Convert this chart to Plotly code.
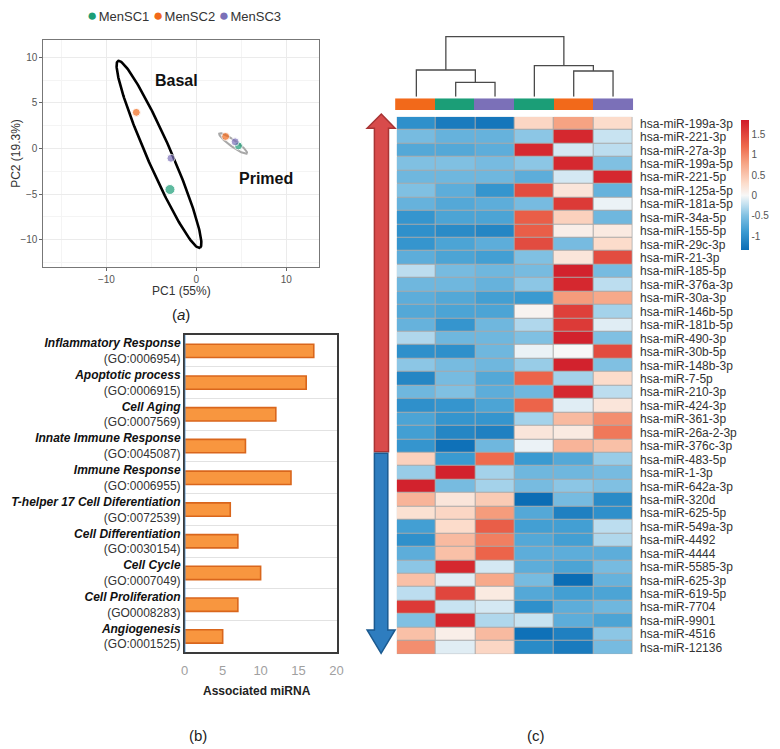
import numpy as np
import plotly.graph_objects as go

W, H = 780, 749
def fx(p): return p / W
def fy(p): return 1 - p / H

FONT = "Arial, Liberation Sans, sans-serif"
C_GREEN, C_ORANGE, C_PURPLE = "#1B9E77", "#F2691A", "#7B70B8"

# ---------------- (a) PCA data ----------------
pca_samples = ["MenSC1", "MenSC2", "MenSC3"]
pca_colors = [C_GREEN, C_ORANGE, C_PURPLE]
basal_pc1 = [-2.93, -6.67, -2.82]
basal_pc2 = [-4.50, 3.96, -1.07]
primed_pc1 = [4.69, 3.26, 4.32]
primed_pc2 = [0.29, 1.32, 0.73]
# ellipse parameters: center, major half-axis vector, minor half length
ell_basal = dict(cx=-4.15, cy=-0.65, ax=4.55, ay=-10.25, minor=1.35)
ell_primed = dict(cx=4.1, cy=0.55, ax=1.55, ay=-1.1, minor=0.36)

# ---------------- (b) GO bar data ----------------
go_terms = ["Inflammatory Response", "Apoptotic process", "Cell Aging",
            "Innate Immune Response", "Immune Response",
            "T-helper 17 Cell Diferentiation", "Cell Differentiation",
            "Cell Cycle", "Cell Proliferation", "Angiogenesis"]
go_ids = ["(GO:0006954)", "(GO:0006915)", "(GO:0007569)", "(GO:0045087)",
          "(GO:0006955)", "(GO:0072539)", "(GO:0030154)", "(GO:0007049)",
          "(GO0008283)", "(GO:0001525)"]
go_counts = [17, 16, 12, 8, 14, 6, 7, 10, 7, 5]
bar_ticks = [0, 5, 10, 15, 20]

# ---------------- (c) heatmap data ----------------
col_donor = [1, 0, 2, 0, 1, 2]   # index into pca_samples
mirnas = ["hsa-miR-199a-3p", "hsa-miR-221-3p", "hsa-miR-27a-3p", "hsa-miR-199a-5p",
          "hsa-miR-221-5p", "hsa-miR-125a-5p", "hsa-miR-181a-5p", "hsa-miR-34a-5p",
          "hsa-miR-155-5p", "hsa-miR-29c-3p", "hsa-miR-21-3p", "hsa-miR-185-5p",
          "hsa-miR-376a-3p", "hsa-miR-30a-3p", "hsa-miR-146b-5p", "hsa-miR-181b-5p",
          "hsa-miR-490-3p", "hsa-miR-30b-5p", "hsa-miR-148b-3p", "hsa-miR-7-5p",
          "hsa-miR-210-3p", "hsa-miR-424-3p", "hsa-miR-361-3p", "hsa-miR-26a-2-3p",
          "hsa-miR-376c-3p", "hsa-miR-483-5p", "hsa-miR-1-3p", "hsa-miR-642a-3p",
          "hsa-miR-320d", "hsa-miR-625-5p", "hsa-miR-549a-3p", "hsa-miR-4492",
          "hsa-miR-4444", "hsa-miR-5585-3p", "hsa-miR-625-3p", "hsa-miR-619-5p",
          "hsa-miR-7704", "hsa-miR-9901", "hsa-miR-4516", "hsa-miR-12136"]
hm_values = [
    [-1.00, -1.20, -1.25, 0.35, 0.80, 0.30],
    [-0.55, -0.65, -0.65, -0.45, 1.75, -0.20],
    [-0.75, -0.75, -0.70, 1.75, -0.15, -0.25],
    [-0.50, -0.50, -0.55, -0.45, 1.75, -0.50],
    [-0.60, -0.60, -0.60, -0.70, -0.15, 1.75],
    [-0.50, -0.70, -0.95, 1.45, 0.20, -0.65],
    [-0.65, -0.75, -0.70, -0.55, 1.60, -0.05],
    [-0.95, -0.80, -0.80, 1.30, 0.40, -0.60],
    [-1.00, -1.05, -1.10, 1.30, 0.10, 0.15],
    [-0.95, -0.80, -0.70, 1.45, -0.55, 0.30],
    [-0.70, -0.80, -0.85, -0.50, 0.20, 1.45],
    [-0.25, -0.55, -0.60, -0.55, 1.80, -0.55],
    [-0.60, -0.60, -0.65, -0.45, 1.75, -0.25],
    [-0.70, -0.75, -0.85, -0.90, 0.85, 0.75],
    [-0.75, -0.80, -0.80, 0.05, 1.55, -0.35],
    [-0.65, -0.95, -0.60, -0.30, 1.60, -0.10],
    [-0.30, -0.60, -0.60, -0.50, 1.80, -0.50],
    [-1.00, -1.00, -0.60, -0.05, 0.00, 1.45],
    [-0.45, -0.55, -0.60, -0.40, 1.80, -0.50],
    [-1.10, -0.55, -0.75, 1.25, -0.35, 0.30],
    [-0.60, -0.50, -0.70, -0.60, 1.75, -0.25],
    [-1.00, -0.95, -0.80, 1.25, -0.10, 0.20],
    [-0.80, -0.95, -0.95, -0.35, 0.60, 0.95],
    [-0.85, -1.10, -1.15, 0.20, 0.15, 1.10],
    [-0.95, -1.30, -0.60, -0.05, 0.65, 0.55],
    [0.40, -0.90, 1.20, -0.90, -0.75, -0.40],
    [-0.40, 1.80, -0.35, -0.60, -0.60, -0.55],
    [1.80, -0.55, -0.35, -0.55, -0.45, -0.50],
    [0.65, 0.20, 0.45, -1.35, -0.55, -1.05],
    [0.25, 0.35, 0.85, -0.75, -1.15, -1.00],
    [-0.85, 0.30, 1.30, -0.85, -0.85, -0.25],
    [-1.00, 0.60, 1.05, -0.75, -0.85, -0.30],
    [-0.70, 0.55, 1.25, -0.70, -0.70, -0.70],
    [-0.45, 1.75, -0.15, -0.70, -0.80, -0.55],
    [0.55, -0.10, 0.75, -0.55, -1.40, -0.65],
    [-0.25, 1.50, 0.15, -0.75, -0.85, -0.80],
    [1.60, -0.20, -0.15, -1.00, -0.70, -0.60],
    [-0.50, 1.75, -0.30, -0.20, -0.70, -0.80],
    [0.55, 0.10, 0.60, -1.30, -1.15, -0.45],
    [0.95, -0.10, 0.35, -1.05, -1.20, -0.55],
]
z_min, z_max = -1.34, 1.85
cbar_ticks = [-1, -0.5, 0, 0.5, 1, 1.5]
# dendrogram merges: (left node, right node, height); leaves 0..5, new nodes 6..
dendro_merges = [(1, 2, 14.4), (0, 6, 26.7), (4, 5, 25.7), (3, 8, 31.0), (7, 9, 60.0)]

fig = go.Figure()

# ---------- PCA ----------
def ellipse(p):
    t = np.linspace(0, 2 * np.pi, 200)
    L = np.hypot(p["ax"], p["ay"])
    ux, uy = p["ax"] / L, p["ay"] / L
    vx, vy = -uy, ux
    x = p["cx"] + np.cos(t) * p["ax"] + np.sin(t) * p["minor"] * vx
    y = p["cy"] + np.cos(t) * p["ay"] + np.sin(t) * p["minor"] * vy
    return x, y

ex, ey = ellipse(ell_basal)
fig.add_trace(go.Scatter(x=ex, y=ey, mode="lines", line=dict(color="black", width=2.6),
                         showlegend=False, hoverinfo="skip", xaxis="x", yaxis="y"))
ex, ey = ellipse(ell_primed)
fig.add_trace(go.Scatter(x=ex, y=ey, mode="lines", line=dict(color="#A8A8A8", width=2),
                         showlegend=False, hoverinfo="skip", xaxis="x", yaxis="y"))
for i, s in enumerate(pca_samples):
    fig.add_trace(go.Scatter(x=[basal_pc1[i], primed_pc1[i]], y=[basal_pc2[i], primed_pc2[i]],
                             mode="markers", name=s,
                             marker=dict(color=pca_colors[i], size=[10 if i == 0 else 8, 8]),
                             xaxis="x", yaxis="y"))

# ---------- GO bars ----------
ypos = list(range(len(go_terms)))
fig.add_trace(go.Bar(x=go_counts, y=ypos, orientation="h", width=0.42,
                     marker=dict(color="#F8963F", line=dict(color="#D9661C", width=1.6)),
                     showlegend=False, xaxis="x2", yaxis="y2"))

# ---------- heatmap ----------
def sp(v): return (v - z_min) / (z_max - z_min)
cscale = [
    [0.0, "#0B6DB5"], [sp(-0.9), "#3A9AD1"], [sp(-0.5), "#80C0E2"], [sp(-0.2), "#C8E3F1"],
    [sp(0), "#F7F7F7"], [sp(0.3), "#FCDCCB"], [sp(0.8), "#F6A383"], [sp(1.2), "#EE6A4D"],
    [1.0, "#D01C2A"]]
fig.add_trace(go.Heatmap(z=hm_values, x=list(range(6)), y=list(range(len(mirnas))),
                         zmin=z_min, zmax=z_max, colorscale=cscale, xgap=1, ygap=1,
                         colorbar=dict(x=fx(747.7), xanchor="left", xpad=0, ypad=0, thickness=8.3,
                                       lenmode="pixels", len=130, y=fy(185), yanchor="middle",
                                       tickvals=cbar_ticks, ticktext=[str(v) for v in cbar_ticks],
                                       tickfont=dict(size=10, color="#555", family=FONT),
                                       outlinewidth=0, ticks=""),
                         xaxis="x3", yaxis="y3"))

# column annotation bar
fig.add_trace(go.Heatmap(z=[col_donor], x=list(range(6)), y=[0], zmin=0, zmax=2,
                         colorscale=[[0, C_GREEN], [0.33, C_GREEN], [0.34, C_ORANGE], [0.66, C_ORANGE],
                                     [0.67, C_PURPLE], [1, C_PURPLE]],
                         showscale=False, xaxis="x5", yaxis="y5", hoverinfo="skip"))

# dendrogram
pos = {i: (float(i), 0.0) for i in range(6)}
nid = 6
for a, b, h in dendro_merges:
    xa, ha = pos[a]
    xb, hb = pos[b]
    fig.add_trace(go.Scatter(x=[xa, xa, xb, xb], y=[ha, h, h, hb], mode="lines",
                             line=dict(color="#4A4A4A", width=1.3), showlegend=False,
                             hoverinfo="skip", xaxis="x4", yaxis="y4"))
    pos[nid] = ((xa + xb) / 2, h)
    nid += 1

# ---------- layout ----------
ax_hidden = dict(visible=False, showgrid=False, zeroline=False)
fig.update_layout(
    width=W, height=H, margin=dict(l=0, r=0, t=0, b=0),
    paper_bgcolor="white", plot_bgcolor="white", showlegend=False,
    font=dict(family=FONT, color="#222"),
    xaxis=dict(domain=[fx(40), fx(320)], range=[-17, 13.7], tickvals=[-10, 0, 10],
               showgrid=True, gridcolor="#EBEBEB", zeroline=False,
               minor=dict(dtick=5, showgrid=True, gridcolor="#F4F4F4"),
               showline=True, mirror=True, linecolor="#777", linewidth=1,
               ticks="outside", ticklen=3, tickcolor="#666",
               tickfont=dict(size=10, color="#555"), anchor="y"),
    yaxis=dict(domain=[fy(267), fy(40)], range=[-13, 11.9], tickvals=[-10, -5, 0, 5, 10],
               showgrid=True, gridcolor="#EBEBEB", zeroline=False,
               minor=dict(tickvals=[-12.5, -7.5, -2.5, 2.5, 7.5], showgrid=True, gridcolor="#F4F4F4"),
               showline=True, mirror=True, linecolor="#777", linewidth=1,
               ticks="outside", ticklen=3, tickcolor="#666",
               tickfont=dict(size=10, color="#555"), anchor="x"),
    xaxis2=dict(domain=[fx(183.3), fx(337.3)], range=[0, 20], tickvals=bar_ticks,
                showgrid=False, zeroline=False, showline=True, mirror=True,
                linecolor="#3A3A3A", linewidth=1.5, ticks="outside", ticklen=5,
                tickcolor="rgba(0,0,0,0)", tickfont=dict(size=13, color="#A0A0A0"), anchor="y2"),
    yaxis2=dict(domain=[fy(652.3), fy(335)], range=[9.5, -0.5], tickvals=ypos,
                ticktext=[f"<b><i>{t}</i></b><br><span style='color:#333'>{g}</span>"
                          for t, g in zip(go_terms, go_ids)],
                showgrid=False, zeroline=False, showline=True, mirror=True,
                linecolor="#3A3A3A", linewidth=1.5, ticks="",
                minor=dict(tickvals=[i + 0.5 for i in range(9)], showgrid=True,
                           gridcolor="#E2E2E2", ticks=""),
                tickfont=dict(size=12, color="#111"), anchor="x2"),
    xaxis3=dict(domain=[fx(398.3), fx(637.7)], range=[-0.5, 5.5], **ax_hidden, anchor="y3"),
    yaxis3=dict(domain=[fy(654.3), fy(116.7)], range=[39.5, -0.5], tickvals=list(range(len(mirnas))),
                ticktext=mirnas, side="right", anchor="x3", showgrid=False, zeroline=False,
                ticks="outside", ticklen=4, tickcolor="rgba(0,0,0,0)",
                tickfont=dict(size=12, color="#333")),
    xaxis4=dict(domain=[fx(398.3), fx(637.7)], range=[-0.5, 5.5], **ax_hidden, anchor="y4"),
    yaxis4=dict(domain=[fy(96.7), fy(35.7)], range=[0, 61], **ax_hidden, anchor="x4"),
    xaxis5=dict(domain=[fx(396.7), fx(638.3)], range=[-0.5, 5.5], **ax_hidden, anchor="y5"),
    yaxis5=dict(domain=[fy(110), fy(98.3)], range=[-0.5, 0.5], **ax_hidden, anchor="x5"),
)

shapes = []
shapes.append(dict(type="rect", xref="x3", yref="y3", x0=-0.5, x1=5.5, y0=-0.5, y1=39.5,
                   fillcolor="#A9A9A9", line=dict(width=0), layer="below"))
shapes.append(dict(type="line", xref="x2", yref="paper", x0=0, x1=0, y0=fy(652.3), y1=fy(335),
                   line=dict(color="#5B9BD5", width=1.5)))

def path(pts):
    return "M " + " L ".join(f"{fx(a):.5f},{fy(b):.5f}" for a, b in pts) + " Z"

red_arrow = [(375.7, 451.7), (375.7, 128.3), (368.3, 128.3), (382.7, 114), (396.7, 128.3),
             (390, 128.3), (390, 451.7)]
blue_arrow = [(375.7, 453.3), (389.3, 453.3), (389.3, 630), (396.7, 630), (382.5, 653.3),
              (368.3, 630), (375.7, 630)]
shapes.append(dict(type="path", xref="paper", yref="paper", path=path(red_arrow),
                   fillcolor="#D84B4B", line=dict(color="#A83434", width=1.5)))
shapes.append(dict(type="path", xref="paper", yref="paper", path=path(blue_arrow),
                   fillcolor="#2E7DBF", line=dict(color="#1B5A90", width=1.5)))
fig.update_layout(shapes=shapes)

legend_text = " ".join(f"<span style='color:{c};font-size:17px'>●</span><span style='font-size:5px'> </span>{s}"
                       for s, c in zip(pca_samples, pca_colors))

def label(x, y, text, size, color="#222", angle=0):
    return dict(x=fx(x), y=fy(y), xref="paper", yref="paper", text=text, showarrow=False,
                xanchor="center", yanchor="middle", textangle=angle,
                font=dict(size=size, color=color))

ann = [
    label(183, 15, legend_text, 13, "#333"),
    dict(x=-2.2, y=7.5, xref="x", yref="y", text="<b>Basal</b>", showarrow=False,
         xanchor="center", yanchor="middle", font=dict(size=16, color="#111")),
    dict(x=7.7, y=-3.3, xref="x", yref="y", text="<b>Primed</b>", showarrow=False,
         xanchor="center", yanchor="middle", font=dict(size=16, color="#111")),
    label(180, 291, "PC1 (55%)", 12, "#333"),
    label(12, 153, "PC2 (19.3%)", 12, "#333", -90),
    label(180, 315, "(<i>a</i>)", 15),
    label(257, 691, "<b>Associated miRNA</b>", 12),
    label(197, 735, "(b)", 15),
    label(540, 735, "(c)", 15),
]
fig.update_layout(annotations=ann)

fig.write_html("out.html", config={"displayModeBar": False},
               post_script=["document.body.style.margin='0';"])
